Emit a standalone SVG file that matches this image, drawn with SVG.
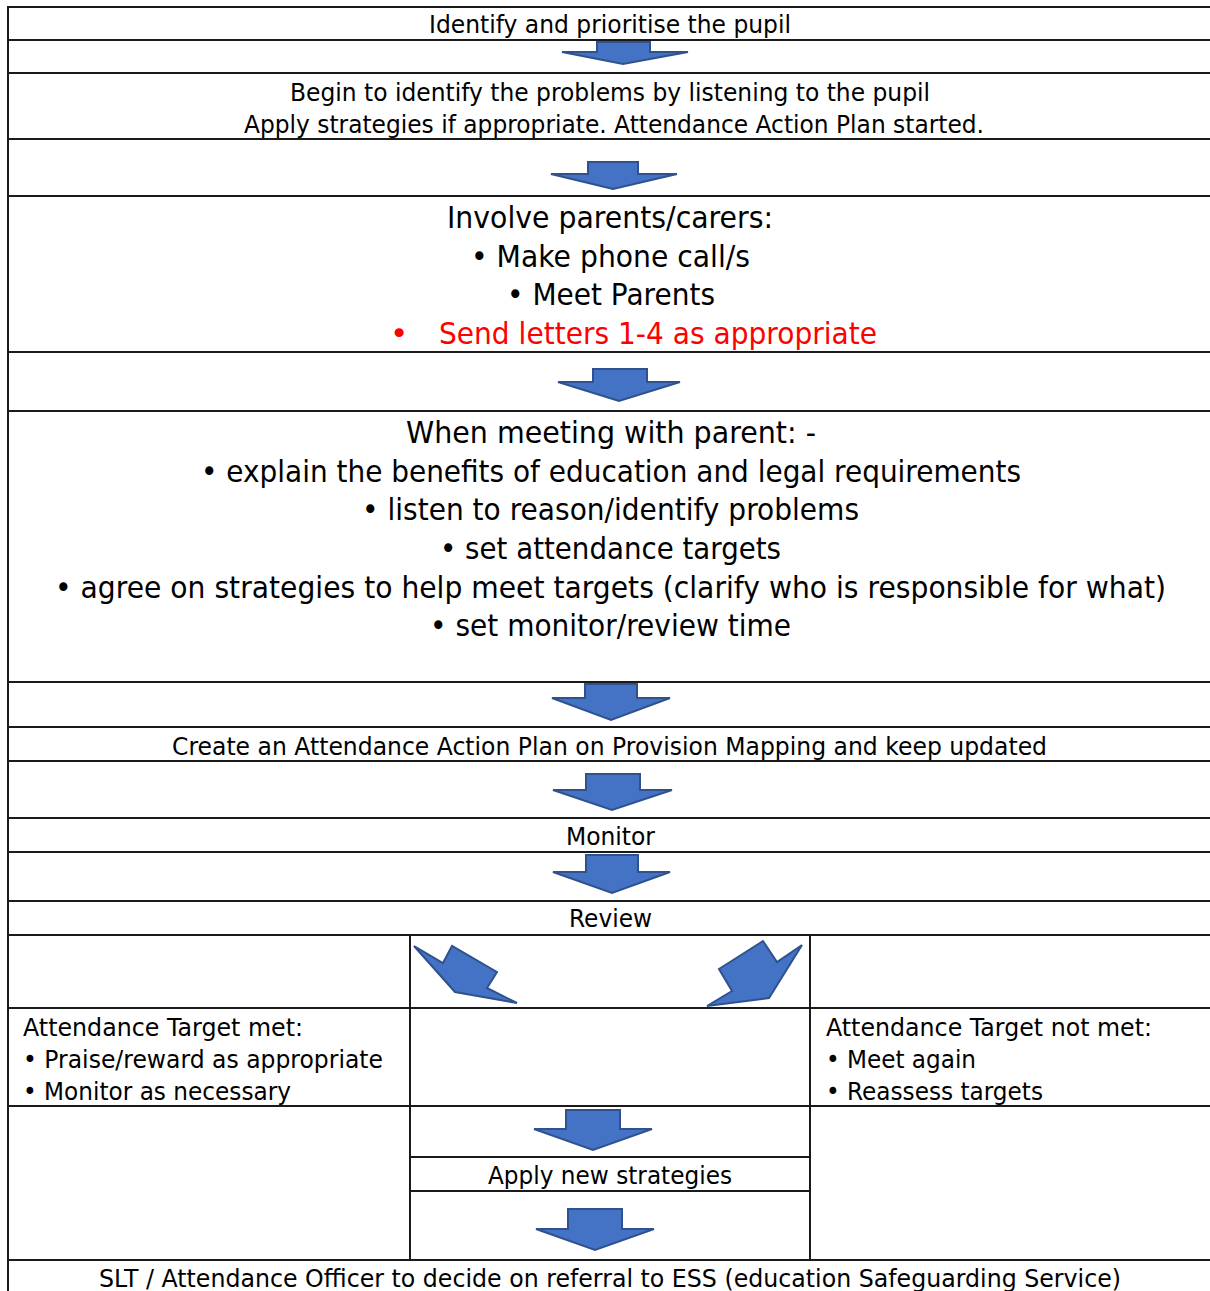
<svg xmlns="http://www.w3.org/2000/svg" width="1210" height="1291" viewBox="0 0 1210 1291">
<style>
.ln{stroke:#1a1a1a;stroke-width:2;fill:none}
.ar{fill:#4472C4;stroke:#2F528F;stroke-width:2;stroke-linejoin:miter}
.s{font-family:"DejaVu Sans",Tahoma,sans-serif;font-size:25px;fill:#000}
.l{font-family:"DejaVu Sans",Tahoma,sans-serif;font-size:31px;fill:#000}
.red{fill:#ff0000}
</style>
<rect width="1210" height="1291" fill="#fff"/>
<g id="grid">
<path class="ln" d="M8 7H1210M8 40H1210M8 73H1210M8 139H1210M8 196H1210M8 352H1210M8 411H1210M8 682H1210M8 727H1210M8 761H1210M8 818H1210M8 852H1210M8 901H1210M8 935H1210M8 1008H1210M8 1106H1210M410 1157H810M410 1191H810M8 1260H1210M8 6V1291M410 935V1260M810 935V1260"/>
</g>
<g id="connectors">
<polygon class="ar" points="597,42 650,42 650,52 688,52 623,64 562,52 597,52"/>
<polygon class="ar" points="588,162 638,162 638,174 677,174 613,189 551,174 588,174"/>
<polygon class="ar" points="593,369 647,369 647,382 680,382 619,401 558,382 593,382"/>
<polygon class="ar" points="585,684 637,684 637,698 670,698 611,720 552,698 585,698"/>
<polygon class="ar" points="586,774 640,774 640,790 672,790 612,810 553,790 586,790"/>
<polygon class="ar" points="586,855 638,855 638,872 670,872 612,893 553,872 586,872"/>
<polygon class="ar" points="566,1110 620,1110 620,1129 652,1129 593,1150 534,1129 566,1129"/>
<polygon class="ar" points="568,1209 622,1209 622,1229 654,1229 595,1250 536,1229 568,1229"/>
<polygon class="ar" points="414,946 443,963 452,946 497,972 487,988 517,1003 455,992"/>
<polygon class="ar" points="802,945 769,998 707,1006 732,991 719,969 763,941 777,962"/>
</g>
<g id="n1"><text class="s" x="429" y="33" textLength="362" lengthAdjust="spacingAndGlyphs">Identify and prioritise the pupil</text></g>
<g id="n2">
<text class="s" x="290" y="101" textLength="640" lengthAdjust="spacingAndGlyphs">Begin to identify the problems by listening to the pupil</text>
<text class="s" x="244" y="133" textLength="740" lengthAdjust="spacingAndGlyphs">Apply strategies if appropriate. Attendance Action Plan started.</text>
</g>
<g id="n3">
<text class="l" x="447" y="228" textLength="326" lengthAdjust="spacingAndGlyphs">Involve parents/carers:</text>
<text class="l" x="471" y="267" textLength="279" lengthAdjust="spacingAndGlyphs">• Make phone call/s</text>
<text class="l" x="507" y="305" textLength="208" lengthAdjust="spacingAndGlyphs">• Meet Parents</text>
<text class="l red" x="390" y="344">•</text>
<text class="l red" x="439" y="344" textLength="438" lengthAdjust="spacingAndGlyphs">Send letters 1-4 as appropriate</text>
</g>
<g id="n4">
<text class="l" x="406" y="443" textLength="410" lengthAdjust="spacingAndGlyphs">When meeting with parent: -</text>
<text class="l" x="201" y="482" textLength="820" lengthAdjust="spacingAndGlyphs">• explain the benefits of education and legal requirements</text>
<text class="l" x="362" y="520" textLength="497" lengthAdjust="spacingAndGlyphs">• listen to reason/identify problems</text>
<text class="l" x="440" y="559" textLength="341" lengthAdjust="spacingAndGlyphs">• set attendance targets</text>
<text class="l" x="55" y="598" textLength="1111" lengthAdjust="spacingAndGlyphs">• agree on strategies to help meet targets (clarify who is responsible for what)</text>
<text class="l" x="430" y="636" textLength="361" lengthAdjust="spacingAndGlyphs">• set monitor/review time</text>
</g>
<g id="n5"><text class="s" x="172" y="755" textLength="875" lengthAdjust="spacingAndGlyphs">Create an Attendance Action Plan on Provision Mapping and keep updated</text></g>
<g id="n6"><text class="s" x="566" y="845" textLength="89" lengthAdjust="spacingAndGlyphs">Monitor</text></g>
<g id="n7"><text class="s" x="569" y="927" textLength="83" lengthAdjust="spacingAndGlyphs">Review</text></g>
<g id="n8">
<text class="s" x="23" y="1036" textLength="280" lengthAdjust="spacingAndGlyphs">Attendance Target met:</text>
<text class="s" x="23" y="1068" textLength="360" lengthAdjust="spacingAndGlyphs">• Praise/reward as appropriate</text>
<text class="s" x="23" y="1100" textLength="268" lengthAdjust="spacingAndGlyphs">• Monitor as necessary</text>
</g>
<g id="n9">
<text class="s" x="826" y="1036" textLength="326" lengthAdjust="spacingAndGlyphs">Attendance Target not met:</text>
<text class="s" x="826" y="1068" textLength="150" lengthAdjust="spacingAndGlyphs">• Meet again</text>
<text class="s" x="826" y="1100" textLength="217" lengthAdjust="spacingAndGlyphs">• Reassess targets</text>
</g>
<g id="n10"><text class="s" x="488" y="1184" textLength="244" lengthAdjust="spacingAndGlyphs">Apply new strategies</text></g>
<g id="n11"><text class="s" x="99" y="1287" textLength="1022" lengthAdjust="spacingAndGlyphs">SLT / Attendance Officer to decide on referral to ESS (education Safeguarding Service)</text></g>
</svg>
